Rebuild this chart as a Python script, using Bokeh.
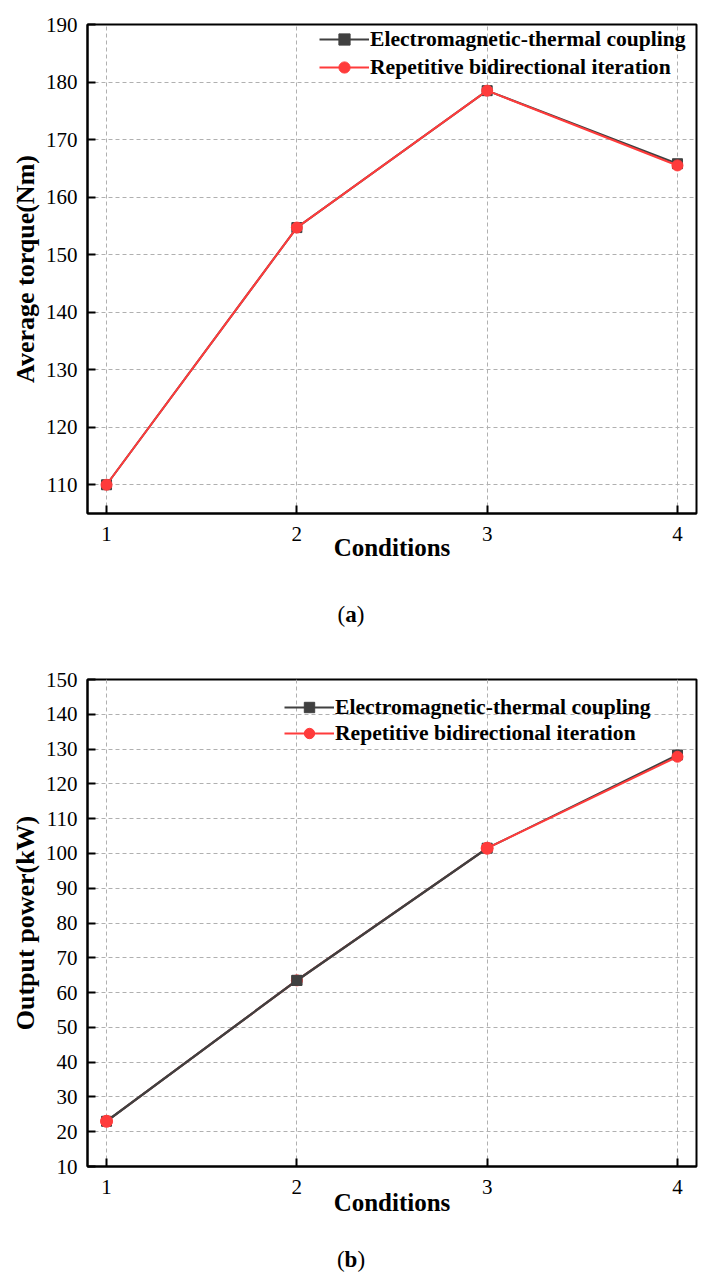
from bokeh.plotting import figure
from bokeh.models import FixedTicker, Div
from bokeh.layouts import column
from bokeh.embed import file_html
from bokeh.resources import INLINE

# ---- data ----
conditions = [1, 2, 3, 4]
torque_coupling = [110.0, 154.7, 178.5, 165.8]
torque_iteration = [110.0, 154.7, 178.5, 165.5]
power_coupling = [23.0, 63.5, 101.5, 128.3]
power_iteration = [23.0, 63.5, 101.5, 127.8]
x_ticks = [1, 2, 3, 4]
torque_ticks = list(range(110, 191, 10))
power_ticks = list(range(10, 151, 10))
label_coupling = "Electromagnetic-thermal coupling"
label_iteration = "Repetitive bidirectional iteration"

BLACK = "#404040"
RED = "#ff3b3b"
FONT = "Liberation Serif"


def style(p, yticks, ylabel, xl_standoff):
    p.xaxis.ticker = FixedTicker(ticks=x_ticks)
    p.yaxis.ticker = FixedTicker(ticks=yticks)
    for ax in (p.xaxis[0], p.yaxis[0]):
        ax.axis_line_color = "black"
        ax.axis_line_width = 2
        ax.major_tick_line_color = "black"
        ax.major_tick_line_width = 2
        ax.major_tick_in = 8
        ax.major_tick_out = 0
        ax.minor_tick_line_color = None
        ax.major_label_text_font = FONT
        ax.major_label_text_font_size = "21px"
        ax.major_label_text_color = "black"
        ax.axis_label_text_font = FONT
        ax.axis_label_text_font_style = "bold"
        ax.axis_label_text_color = "black"
    p.xaxis.axis_label = "Conditions"
    p.xaxis.axis_label_text_font_size = "25px"
    p.xaxis.major_label_standoff = 13
    p.xaxis.axis_label_standoff = xl_standoff
    p.yaxis.axis_label = ylabel
    p.yaxis.axis_label_text_font_size = "26px"
    p.yaxis.axis_label_standoff = 3
    p.yaxis.major_label_standoff = 10
    for g in (p.xgrid[0], p.ygrid[0]):
        g.grid_line_color = "#b0b0b0"
        g.grid_line_dash = "4 3"
        g.grid_line_width = 1
    p.outline_line_color = "black"
    p.outline_line_width = 2
    p.background_fill_color = "white"
    p.border_fill_color = "white"


def style_legend(p, loc, row_h):
    lg = p.legend[0]
    lg.location = loc
    lg.padding = 0
    lg.margin = 0
    lg.spacing = 0
    lg.border_line_color = None
    lg.background_fill_alpha = 0
    lg.label_text_font = FONT
    lg.label_text_font_style = "bold"
    lg.label_text_font_size = "21.6px"
    lg.label_text_color = "black"
    lg.label_height = row_h
    lg.glyph_height = row_h
    lg.glyph_width = 50
    lg.label_standoff = 1


# ---- (a) average torque ----
pa = figure(width=702, height=568, x_range=(0.9, 4.1), y_range=(105, 190),
            output_backend="svg", toolbar_location=None,
            min_border_left=87, min_border_right=2, min_border_top=24, min_border_bottom=55)
style(pa, torque_ticks, "Average torque(Nm)", -10)
pa.line(conditions, torque_coupling, line_color=BLACK, line_width=2, legend_label=label_coupling)
pa.scatter(conditions, torque_coupling, marker="square", size=10, fill_color=BLACK, line_color=BLACK,
           legend_label=label_coupling)
pa.line(conditions, torque_iteration, line_color=RED, line_width=2, legend_label=label_iteration)
pa.scatter(conditions, torque_iteration, marker="circle", size=11, fill_color=RED, line_color=RED,
           legend_label=label_iteration)
style_legend(pa, (232, 432), 28)

cap_a = Div(text='<div style="width:702px;text-align:center;font-family:\'Liberation Serif\';'
                 'font-size:23px;line-height:26px;padding-top:34px;color:black;">(<b>a</b>)</div>',
            width=702, height=92, margin=0)

# ---- (b) output power ----
pb = figure(width=702, height=558, x_range=(0.9, 4.1), y_range=(10, 150),
            output_backend="svg", toolbar_location=None,
            min_border_left=84, min_border_right=6, min_border_top=19, min_border_bottom=52)
style(pb, power_ticks, "Output power(kW)", -8)
pb.line(conditions, power_coupling, line_color=BLACK, line_width=2, legend_label=label_coupling)
pb.scatter(conditions, power_coupling, marker="square", size=10, fill_color=BLACK, line_color=BLACK,
           legend_label=label_coupling)
pb.line(conditions, power_iteration, line_color=RED, line_width=2, legend_label=label_iteration)
pb.scatter(conditions, power_iteration, marker="circle", size=11, fill_color=RED, line_color=RED,
           legend_label=label_iteration)
# layering as in the reference: coupling line on top for conditions 1-3
pb.line(conditions[:3], power_coupling[:3], line_color=BLACK, line_width=2.4)
pb.scatter(conditions[1:2], power_coupling[1:2], marker="square", size=10, fill_color=BLACK, line_color=BLACK)
pb.scatter(conditions[0:1] + conditions[2:3], power_iteration[0:1] + power_iteration[2:3],
           marker="circle", size=12, fill_color=RED, line_color=RED)
style_legend(pb, (197, 420), 26)

cap_b = Div(text='<div style="width:702px;text-align:center;font-family:\'Liberation Serif\';'
                 'font-size:23px;line-height:26px;padding-top:29px;color:black;">(<b>b</b>)</div>',
            width=702, height=52, margin=0)

layout = column(pa, cap_a, pb, cap_b)
open("out.html", "w").write(file_html(layout, INLINE))
